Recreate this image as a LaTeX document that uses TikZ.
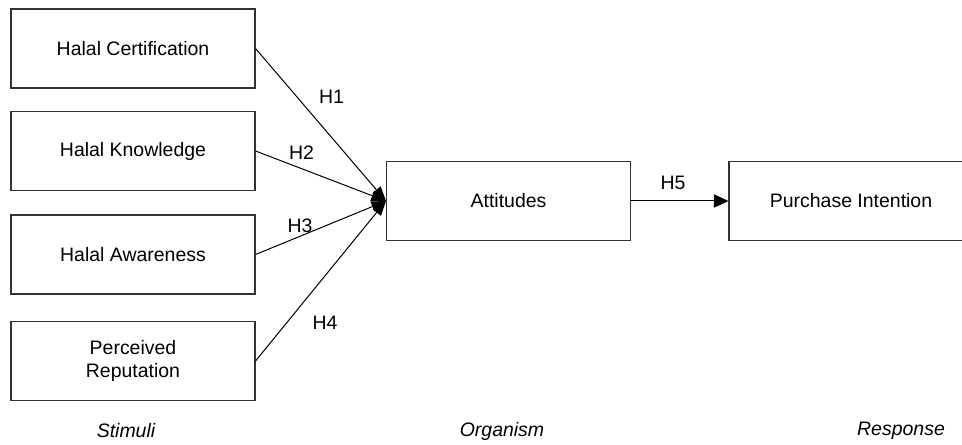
\documentclass[tikz,border=0pt]{standalone}
\usepackage{fontspec}
\setmainfont{Liberation Sans}
\usetikzlibrary{arrows.meta}
\begin{document}
\begin{tikzpicture}[x=0.75pt,y=0.75pt,
  box/.style={draw=black!80,line width=0.8pt,minimum width=244*0.75pt,minimum height=79*0.75pt,inner sep=0pt,align=center,font=\fontsize{14.6}{17}\selectfont},
  lbl/.style={font=\fontsize{14.6}{17}\selectfont,inner sep=0pt},
  cat/.style={font=\fontsize{14.6}{17}\selectfont\itshape,inner sep=0pt},
  conn/.style={line width=0.75pt,-{Triangle[length=11pt,width=8pt]}}]
\useasboundingbox (0,0) rectangle (962,-445);
\fill[white] (0,0) rectangle (962,-445);
\node[box] (hc) at (133,-48.5) {Halal Certification};
\node[box] (hk) at (133,-151) {Halal Knowledge};
\node[box] (ha) at (133,-254.5) {Halal Awareness};
\node[box] (pr) at (133,-361) {Perceived\\Reputation};
\node[box] (at) at (508.5,-201) {Attitudes};
\node[box] (pi) at (851,-201) {Purchase Intention};
\coordinate (tip) at (386,-201);
\draw[conn] (hc.east) -- (tip);
\draw[conn] (hk.east) -- (tip);
\draw[conn] (ha.east) -- (tip);
\draw[conn] (pr.east) -- (tip);
\draw[conn,-{Triangle[length=11pt,width=10pt]}] (at.east) -- (pi.west);
\node[lbl] (h1) at (331.5,-97) {H1};
\node[lbl] (h2) at (301.5,-153) {H2};
\node[lbl] (h3) at (300,-226) {H3};
\node[lbl] (h4) at (325,-323) {H4};
\node[lbl] (h5) at (673,-183) {H5};
\node[cat] (s) at (126,-431) {Stimuli};
\node[cat] (o) at (502,-431) {Organism};
\node[cat] (r) at (901,-431) {Response};
\end{tikzpicture}
\end{document}
